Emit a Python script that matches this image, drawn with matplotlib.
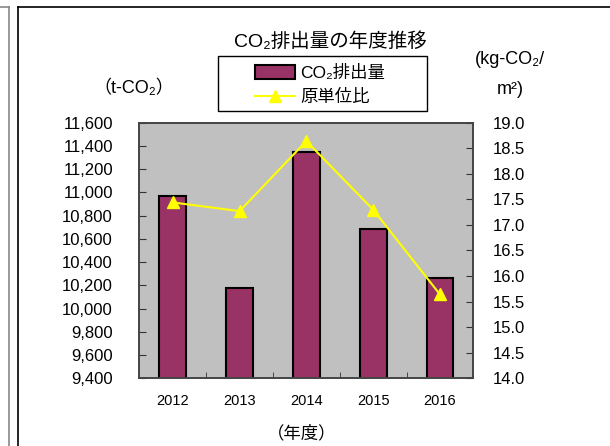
import matplotlib
matplotlib.use("Agg")
import matplotlib.pyplot as plt
from matplotlib.lines import Line2D
from matplotlib.patches import Patch, Rectangle
import numpy as np

plt.rcParams['font.family'] = ['Liberation Sans', 'Noto Sans CJK JP', 'DejaVu Sans']

years = ['2012', '2013', '2014', '2015', '2016']
emissions = [10967, 10179, 11347, 10689, 10259]
intensity = [17.44, 17.27, 18.64, 17.30, 15.64]
left_ticks = list(range(9400, 11601, 200))
right_ticks = [14.0, 14.5, 15.0, 15.5, 16.0, 16.5, 17.0, 17.5, 18.0, 18.5, 19.0]

W, H = 610, 446
fig = plt.figure(figsize=(6.1, 4.46), dpi=100)
ax = fig.add_axes([0.2284, 0.1518, 0.5476, 0.5731])
ax.set_facecolor('#C0C0C0')
x = np.arange(len(years))
ax.bar(x, emissions, width=0.4, color='#993366', edgecolor='black', linewidth=1.5, zorder=2)
ax.set_xlim(-0.5, 4.5)
ax.set_ylim(9400, 11600)
ax.set_yticks(left_ticks)
ax.set_yticklabels([f'{v:,}' for v in left_ticks], fontsize=12)
ax.set_xticks(x)
ax.set_xticklabels(years, fontsize=10.5)
ax.set_xticks(np.arange(-0.5, 4.6, 1.0), minor=True)
ax.tick_params(axis='x', which='major', length=0, pad=11)
ax.tick_params(axis='x', which='minor', direction='in', length=4, color='#333')
ax.tick_params(axis='y', direction='in', length=5, color='#333', pad=19)

ax2 = ax.twinx()
ax2.plot(x, intensity, color='#FFFF00', linewidth=1.5, marker='^', markersize=9,
         markerfacecolor='#FFFF00', markeredgecolor='#FFFF00', zorder=3)
ax2.set_ylim(14.0, 19.0)
ax2.set_yticks(right_ticks)
ax2.set_yticklabels([f'{v:.1f}' for v in right_ticks], fontsize=12)
ax2.tick_params(axis='y', direction='in', length=5, color='#333', pad=14)

for a in (ax, ax2):
    for s in a.spines.values():
        s.set_color('#444444')
        s.set_linewidth(1.2)

fig.text(330 / W, 1 - 42 / H, 'CO₂排出量の年度推移', ha='center', va='center', fontsize=14)
fig.text(134 / W, 1 - 88 / H, '（t-CO₂）', ha='center', va='center', fontsize=13)
fig.text(510 / W, 1 - 60 / H, '(kg-CO₂/', ha='center', va='center', fontsize=13)
fig.text(510 / W, 1 - 89 / H, 'm²)', ha='center', va='center', fontsize=13)
fig.text(302 / W, 1 - 433 / H, '（年度）', ha='center', va='center', fontsize=12.5)

handles = [Patch(facecolor='#993366', edgecolor='black', linewidth=1.5),
           Line2D([0], [0], color='#FFFF00', lw=1.5, marker='^', markersize=8,
                  markerfacecolor='#FFFF00', markeredgecolor='#FFFF00')]
leg = fig.legend(handles, ['CO₂排出量', '原単位比'], loc='center',
                 bbox_to_anchor=(320 / W, 1 - 85 / H), fontsize=12.5, frameon=False,
                 handlelength=2.3, handleheight=0.8,
                 borderpad=0.2, labelspacing=0.45, handletextpad=0.3)
fig.add_artist(Rectangle((218 / W, 1 - 111 / H), 209 / W, 55 / H, transform=fig.transFigure,
                         facecolor='none', edgecolor='black', lw=1.0))

# outer frame decorations
fig.add_artist(Line2D([18/W, 18/W], [0, 1 - 7/H], color='black', lw=1.2, transform=fig.transFigure))
fig.add_artist(Line2D([18/W, 1], [1 - 7/H, 1 - 7/H], color='black', lw=1.2, transform=fig.transFigure))
fig.add_artist(Line2D([8.5/W, 8.5/W], [0, 1 - 7/H], color='#888888', lw=1.2, transform=fig.transFigure))
fig.add_artist(Line2D([0, 8.5/W], [1 - 7/H, 1 - 7/H], color='#888888', lw=1.2, transform=fig.transFigure))

fig.savefig('out.png', dpi=100)
